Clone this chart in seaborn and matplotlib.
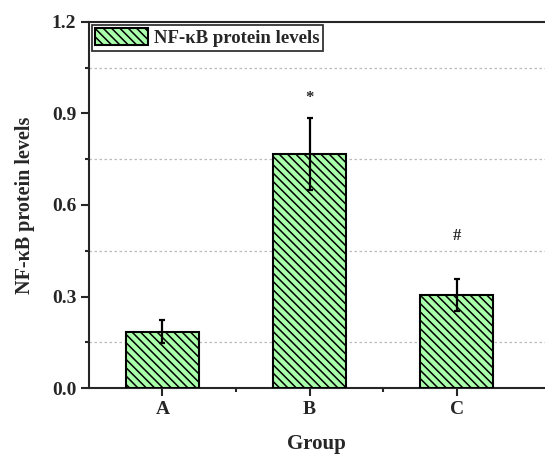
import matplotlib
matplotlib.use("Agg")
import matplotlib.pyplot as plt
import seaborn as sns
import pandas as pd
from matplotlib.patches import Patch
from matplotlib.ticker import MultipleLocator

groups = ["A", "B", "C"]
values = [0.185, 0.767, 0.305]
errors = [0.038, 0.118, 0.052]
marks = ["", "*", "#"]
mark_y = [None, 0.95, 0.50]

sns.set_style("ticks")
plt.rcParams['font.family'] = ['Liberation Serif', 'DejaVu Serif']
plt.rcParams['font.weight'] = 'bold'
plt.rcParams['hatch.linewidth'] = 1.1
plt.rcParams['hatch.color'] = '#2a2a2a'

HATCH = "\\\\\\\\"
FILL = "#aaffaa"

fig = plt.figure(figsize=(5.45, 4.55), dpi=100)
ax = fig.add_axes([0.163, 0.147, 0.837, 0.805])

df = pd.DataFrame({"Group": groups, "value": values})
sns.barplot(data=df, x="Group", y="value", ax=ax, color=FILL, width=0.5,
            edgecolor="black", linewidth=1.5, saturation=1, zorder=3)
for p in ax.patches:
    p.set_facecolor(FILL)
    p.set_hatch(HATCH)

xs = list(range(len(groups)))
ax.errorbar(xs, values, yerr=errors, fmt="none", ecolor="black", elinewidth=1.6,
            capsize=2.5, capthick=1.6, zorder=4)
for x, m, my in zip(xs, marks, mark_y):
    if m:
        ax.text(x, my, m, ha="center", va="center", fontsize=12, fontweight="bold")

ax.set_xlim(-0.5, 2.6)
ax.set_ylim(0, 1.2)
ax.yaxis.set_major_locator(MultipleLocator(0.3))
ax.yaxis.set_minor_locator(MultipleLocator(0.15))
ax.set_xticks(xs)
ax.set_xticks([0.5, 1.5], minor=True)
ax.set_yticklabels(["%.1f" % t for t in ax.get_yticks()])
ax.grid(False)
ax.grid(True, which="minor", axis="y", linestyle=(0, (2, 2)), color="#bbbbbb", linewidth=0.9, zorder=0)
ax.tick_params(axis="both", which="major", direction="out", length=6, width=1.5, labelsize=14, pad=3)
ax.tick_params(axis="both", which="minor", direction="out", length=3, width=1.5)
for lab in ax.get_xticklabels() + ax.get_yticklabels():
    lab.set_fontweight("bold")
for s in ["left", "bottom", "top"]:
    ax.spines[s].set_linewidth(1.5)
ax.spines["right"].set_visible(False)

ax.set_xlabel("Group", fontsize=15, fontweight="bold", labelpad=12)
ax.set_ylabel("NF-κB protein levels", fontsize=14.5, fontweight="bold", labelpad=12)

handle = Patch(facecolor=FILL, edgecolor="black", hatch=HATCH, linewidth=1.5)
leg = ax.legend([handle], ["NF-κB protein levels"], loc="upper left", bbox_to_anchor=(0.0, 1.0),
                frameon=True, fancybox=False, edgecolor="black", fontsize=13.5,
                borderpad=0.2, handlelength=2.8, handleheight=1.0, handletextpad=0.3,
                borderaxespad=0.15)
leg.get_frame().set_linewidth(1.3)
for t in leg.get_texts():
    t.set_fontweight("bold")

fig.savefig("out.png", dpi=100)
